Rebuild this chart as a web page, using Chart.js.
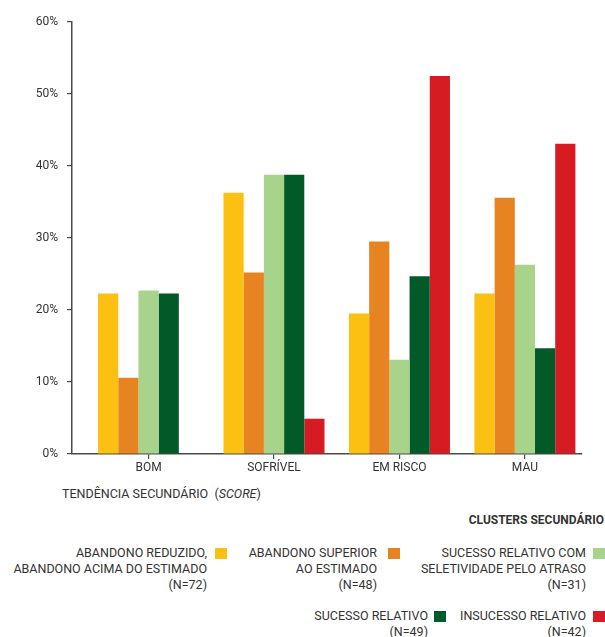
<!DOCTYPE html>
<html lang="pt">
<head>
<meta charset="utf-8">
<title>Clusters secundário por tendência</title>
<script src="https://cdn.jsdelivr.net/npm/chart.js@4"></script>
<style>
    html, body { margin: 0; padding: 0; background: #fff; }
    body {
        width: 605px; height: 637px; position: relative; overflow: hidden;
        font-family: Roboto, "Noto Sans", sans-serif; color: #333;
    }
    #chart-wrap { position: absolute; left: 0; top: 0; width: 605px; height: 480px; }
    .axis-title { position: absolute; left: 62px; top: 486px; font-size: 12.5px; white-space: pre; }
    .legend-title { position: absolute; right: 1px; top: 513px; font-size: 12px; font-weight: bold; }
    .item { position: absolute; font-size: 12.5px; line-height: 16px; text-align: right; white-space: nowrap; }
    .swatch { position: absolute; width: 12px; height: 11px; }
</style>
</head>
<body>
<div id="chart-wrap"><canvas id="myChart"></canvas></div>
<div class="axis-title">TENDÊNCIA SECUNDÁRIO  (<i>SCORE</i>)</div>
<div class="legend-title">CLUSTERS SECUNDÁRIO</div>
<div id="legend"></div>

<script>
// Tendência (eixo x) e percentagens de cada cluster
const categorias = ['BOM', 'SOFRÍVEL', 'EM RISCO', 'MAU'];

const abandonoReduzido   = [22.3, 36.3, 19.5, 22.3];
const abandonoSuperior   = [10.6, 25.2, 29.5, 35.6];
const sucessoSeletivo    = [22.7, 38.8, 13.1, 26.3];
const sucessoRelativo    = [22.3, 38.8, 24.7, 14.7];
const insucessoRelativo  = [0,    4.9,  52.5, 43.1];

const nomesClusters = [
    ['ABANDONO REDUZIDO,', 'ABANDONO ACIMA DO ESTIMADO', '(N=72)'],
    ['ABANDONO SUPERIOR', 'AO ESTIMADO', '(N=48)'],
    ['SUCESSO RELATIVO COM', 'SELETIVIDADE PELO ATRASO', '(N=31)'],
    ['SUCESSO RELATIVO', '(N=49)'],
    ['INSUCESSO RELATIVO', '(N=42)']
];
const cores = ['#fbc012', '#e88322', '#a8d38b', '#025a28', '#d71b22'];

const yTicks = [0, 10, 20, 30, 40, 50, 60];

const series = [abandonoReduzido, abandonoSuperior, sucessoSeletivo, sucessoRelativo, insucessoRelativo];

const datasets = series.map((valores, i) => ({
    label: nomesClusters[i].join(' '),
    data: valores.map((v, idx) => ({ x: idx, y: v })),
    backgroundColor: cores[i],
    borderWidth: 0,
    categoryPercentage: 0.805,
    barPercentage: 1.0
}));

const eixo = '#4a4a4a';
const fonte = { family: 'Roboto', size: 12 };

new Chart(document.getElementById('myChart'), {
    type: 'bar',
    data: { datasets: datasets },
    options: {
        responsive: true,
        maintainAspectRatio: false,
        animation: false,
        layout: { padding: { top: 22, right: 23, bottom: 6, left: 0 } },
        plugins: {
            legend: { display: false },
            tooltip: { enabled: false }
        },
        scales: {
            x: {
                type: 'linear',
                offset: false,
                min: -0.61,
                max: 3.455,
                afterBuildTicks(scale) {
                    scale.ticks = categorias.map((_, i) => ({ value: i }));
                },
                afterFit(scale) { scale.height = 20; },
                ticks: {
                    color: '#333',
                    font: fonte,
                    padding: 2,
                    callback: v => categorias[v]
                },
                grid: { offset: false, drawOnChartArea: false, tickLength: 5, color: eixo, lineWidth: 1.2 },
                border: { color: eixo, width: 1.5 }
            },
            y: {
                min: 0,
                max: 60,
                afterBuildTicks(scale) {
                    scale.ticks = yTicks.map(v => ({ value: v }));
                },
                afterFit(scale) { scale.width = 72; },
                ticks: {
                    color: '#333',
                    font: fonte,
                    padding: 9,
                    callback: v => v + '%'
                },
                grid: { drawOnChartArea: false, tickLength: 5, color: eixo, lineWidth: 1.2 },
                border: { color: eixo, width: 1.5 }
            }
        }
    }
});

// Legenda com texto alinhado à direita e o quadrado de cor ao lado
const posLegenda = [
    { right: 398, top: 545, box: 215 },
    { right: 228, top: 545, box: 388 },
    { right: 19,  top: 545, box: 593 },
    { right: 177, top: 608, box: 434 },
    { right: 19,  top: 608, box: 593 }
];

const legend = document.getElementById('legend');
nomesClusters.forEach((linhas, i) => {
    const p = posLegenda[i];
    const item = document.createElement('div');
    item.className = 'item';
    item.style.right = p.right + 'px';
    item.style.top = p.top + 'px';
    item.innerHTML = linhas.join('<br>');
    legend.appendChild(item);

    const sw = document.createElement('div');
    sw.className = 'swatch';
    sw.style.left = p.box + 'px';
    sw.style.top = (p.top + 3) + 'px';
    sw.style.background = cores[i];
    legend.appendChild(sw);
});
</script>
</body>
</html>
